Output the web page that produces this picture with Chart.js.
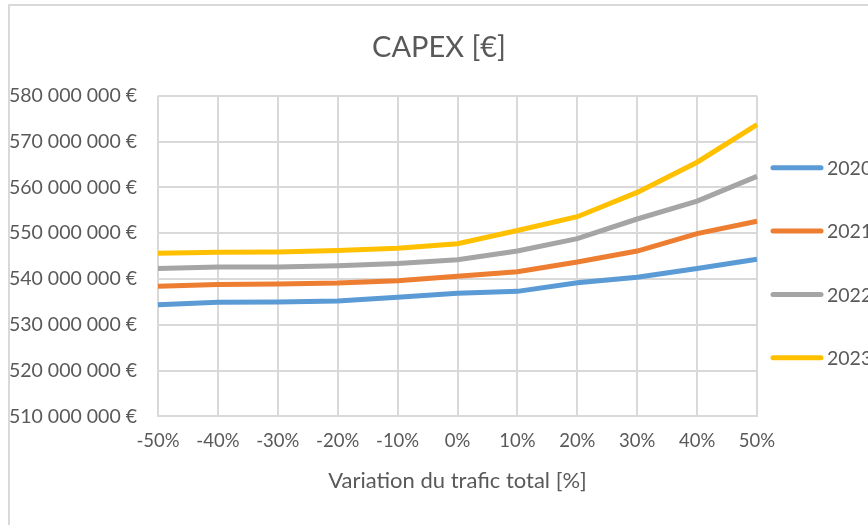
<!DOCTYPE html>
<html>
<head>
<meta charset="utf-8">
<script src="https://cdn.jsdelivr.net/npm/chart.js@4"></script>
<style>
  body { margin: 0; background: #fff; }
  .cadre { position: relative; width: 868px; height: 525px; overflow: hidden; }
  .bord { position: absolute; left: 8px; top: 4px; right: -10px; bottom: -10px;
          border-left: 2px solid #d9d9d9; border-top: 2px solid #d9d9d9; pointer-events: none; }
  #graphCapex { position: absolute; left: 0; top: 0; }
</style>
</head>
<body>
<div class="cadre">
  <canvas id="graphCapex" width="868" height="525"></canvas>
  <div class="bord"></div>
</div>
<script>
  // variations de trafic
  const variations = ['-50%', '-40%', '-30%', '-20%', '-10%', '0%', '10%', '20%', '30%', '40%', '50%'];

  // CAPEX en millions d'euros
  const capex2020 = [534.4, 534.9, 535.0, 535.2, 536.0, 536.9, 537.3, 539.2, 540.4, 542.3, 544.3];
  const capex2021 = [538.4, 538.8, 538.9, 539.1, 539.6, 540.6, 541.6, 543.7, 546.1, 549.9, 552.6];
  const capex2022 = [542.3, 542.6, 542.6, 542.9, 543.4, 544.2, 546.1, 548.8, 553.1, 557.0, 562.4];
  const capex2023 = [545.6, 545.85, 545.9, 546.2, 546.7, 547.7, 550.6, 553.6, 558.9, 565.5, 573.7];

  const annees = ['2020', '2021', '2022', '2023'];
  const couleurs = ['#5b9bd5', '#ed7d31', '#a5a5a5', '#ffc000'];
  const series = [capex2020, capex2021, capex2022, capex2023];

  const police = "Lato, 'Open Sans', sans-serif";
  const gris = '#595959';

  function formatEuro(v) {
    // 580 -> "580 000 000 €"
    return Math.round(v) + ' 000 000 €';
  }

  // legende a droite, facon Excel (le texte depasse du cadre)
  const legendeExcel = {
    id: 'legendeExcel',
    afterDraw: function(chart) {
      const c = chart.ctx, a = chart.chartArea;
      const x0 = a.right + 16;
      c.save();
      c.font = '19.5px ' + police;
      c.textBaseline = 'middle';
      c.lineCap = 'round';
      chart.data.datasets.forEach(function(ds, i) {
        const y = a.top + 72 + i * 63.3;
        c.strokeStyle = ds.borderColor;
        c.lineWidth = 5;
        c.beginPath();
        c.moveTo(x0, y);
        c.lineTo(x0 + 48, y);
        c.stroke();
        c.fillStyle = gris;
        c.fillText(ds.label, x0 + 54, y + 1);
      });
      c.restore();
    }
  };

  const _dataSets = series.map(function(s, i) {
    return {
      label: annees[i],
      data: s,
      borderColor: couleurs[i],
      backgroundColor: couleurs[i],
      borderWidth: 5,
      pointRadius: 0,
      tension: 0,
      fill: false
    };
  });

  const config = {
    type: 'line',
    data: { labels: variations, datasets: _dataSets },
    plugins: [legendeExcel],
    options: {
      responsive: false,
      animation: false,
      layout: { padding: { left: 10, right: 0, top: 0, bottom: 31 } },
      plugins: {
        title: {
          display: true,
          text: 'CAPEX [€]',
          color: gris,
          font: { family: police, size: 29, weight: 'normal' },
          padding: { top: 30, bottom: 31 }
        },
        legend: { display: false },
        tooltip: { enabled: false }
      },
      scales: {
        x: {
          offset: false,
          grid: { color: '#d9d9d9', lineWidth: 2, drawTicks: false },
          border: { color: '#d9d9d9', width: 2 },
          ticks: { color: gris, font: { family: police, size: 18.5 }, padding: 14, maxRotation: 0 },
          title: {
            display: true,
            text: 'Variation du trafic total [%]',
            color: gris,
            font: { family: police, size: 22 },
            padding: { top: 1, bottom: 0 }
          }
        },
        y: {
          min: 510,
          max: 580,
          grid: { color: '#d9d9d9', lineWidth: 2, drawTicks: false },
          border: { display: false },
          ticks: {
            stepSize: 10,
            color: gris,
            font: { family: police, size: 19.5 },
            padding: 21,
            callback: function(v) { return formatEuro(v); }
          },
          afterFit: function(scale) { scale.width = 148; }
        },
        // axe vide a droite : la place de la legende
        yLegende: {
          position: 'right',
          min: 510,
          max: 580,
          grid: { display: false },
          border: { display: false },
          ticks: { display: false },
          afterFit: function(scale) { scale.width = 111; }
        }
      }
    }
  };

  const ctx = document.getElementById('graphCapex').getContext('2d');
  window.graphCapex_ = new Chart(ctx, config);
</script>
</body>
</html>
